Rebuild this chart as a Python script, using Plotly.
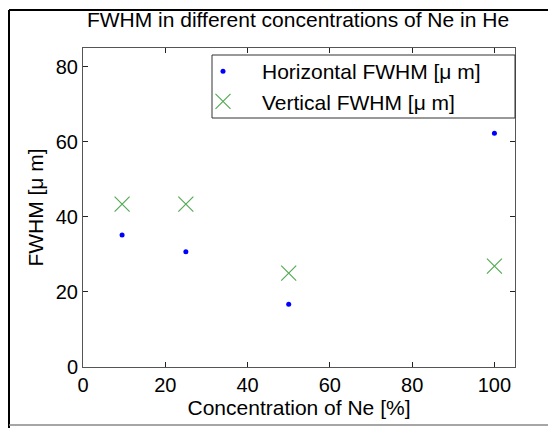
import plotly.graph_objects as go

conc = [9.5, 25, 50, 100]
horizontal = [35.2, 30.7, 16.7, 62.3]
vertical = [43.4, 43.4, 25.0, 26.9]

title = "FWHM in different concentrations of Ne in He"
xlabel = "Concentration of Ne [%]"
ylabel = "FWHM [μ m]"
xticks = [0, 20, 40, 60, 80, 100]
yticks = [0, 20, 40, 60, 80]

# page body has an 8px margin: coordinates below are figure pixels
W, H = 556, 428
L, R, T, B = 75, 49, 40, 69
pw, ph = W - L - R, H - T - B

def px(xp):
    return (xp - L) / pw

def py(yp):
    return (H - B - yp) / ph

fig = go.Figure()
fig.add_trace(go.Scatter(x=conc, y=horizontal, mode="markers", name="Horizontal FWHM [μ m]",
                         marker=dict(symbol="circle", size=5, color="#0000ff")))
fig.add_trace(go.Scatter(x=conc, y=vertical, mode="markers", name="Vertical FWHM [μ m]",
                         marker=dict(symbol="x-thin", size=15, color="rgba(0,0,0,0)",
                                     line=dict(color="#55aa55", width=1.2))))

font = "Liberation Sans, Arial, Helvetica, sans-serif"
axis_common = dict(showgrid=False, zeroline=False, showline=True, linecolor="#555555", linewidth=1,
                   mirror="ticks", ticks="inside", ticklen=5, tickcolor="#222222",
                   tickfont=dict(family=font, size=20, color="black"))

fig.update_layout(
    width=W, height=H,
    margin=dict(l=L, r=R, t=T, b=B),
    paper_bgcolor="white", plot_bgcolor="white",
    font=dict(family=font, color="black"),
    title=dict(text=title, x=290 / W, xanchor="center", y=1 - 12 / H, yanchor="middle",
               font=dict(family=font, size=21, color="black")),
    xaxis=dict(range=[0, 105], tickvals=xticks, title=dict(text=xlabel, font=dict(size=21), standoff=4),
               **axis_common),
    yaxis=dict(range=[0, 85], tickvals=yticks, title=dict(text=ylabel, font=dict(size=21), standoff=6),
               **axis_common),
    legend=dict(x=px(176), y=py(43), xanchor="left", yanchor="top",
                bgcolor="rgba(0,0,0,0)", borderwidth=0,
                font=dict(family=font, size=21, color="black"), itemwidth=68,
                tracegroupgap=0),
    showlegend=True,
)

# legend box
fig.add_shape(type="rect", xref="paper", yref="paper", x0=px(204), x1=px(507), y0=py(47), y1=py(110),
              fillcolor="white", line=dict(color="#333333", width=1), layer="above")

fig.add_shape(type="line", xref="paper", yref="paper", x0=px(1), x1=px(1), y0=py(2), y1=py(430),
              line=dict(color="black", width=2))
fig.add_shape(type="line", xref="paper", yref="paper", x0=px(1), x1=px(560), y0=py(2), y1=py(2),
              line=dict(color="black", width=2))
fig.add_shape(type="line", xref="paper", yref="paper", x0=px(1), x1=px(560), y0=py(417), y1=py(417),
              line=dict(color="#888888", width=1.5))

fig.write_html("out.html")
